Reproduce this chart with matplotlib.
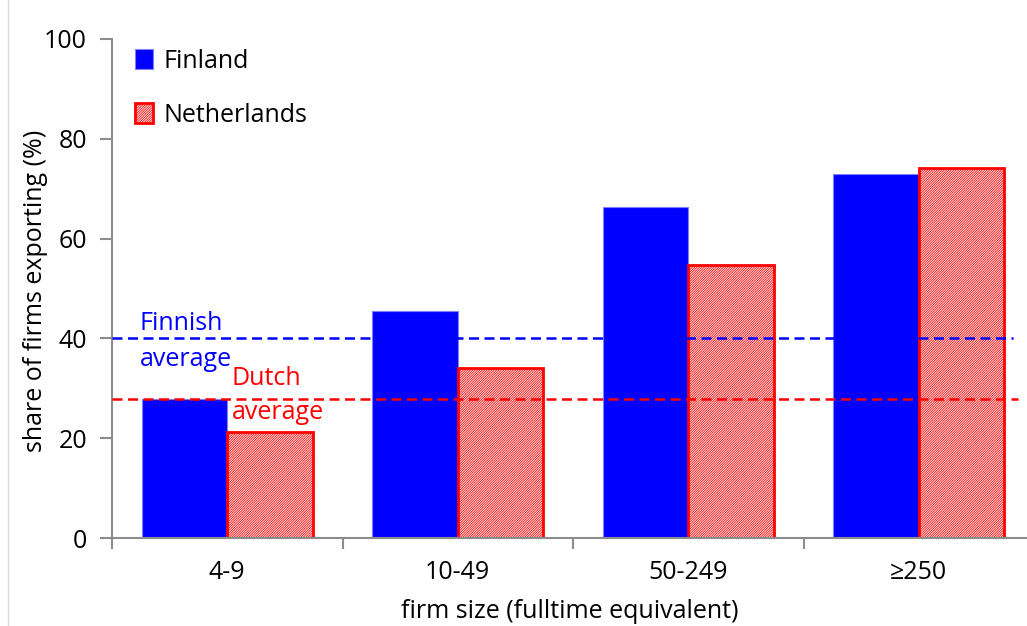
import numpy as np
import matplotlib.pyplot as plt
from matplotlib.lines import Line2D
from matplotlib.ticker import FixedLocator, NullFormatter

size_classes = ["4-9", "10-49", "50-249", "\u2265250"]
finland = [27.9, 45.5, 66.3, 72.9]
netherlands = [21.2, 34.1, 54.7, 74.1]
finnish_average = 40.0
dutch_average = 27.8

plt.rcParams['font.family'] = ['Open Sans', 'DejaVu Sans']
plt.rcParams['hatch.linewidth'] = 0.6

grey = "#8c8c8c"
fs = 18

fig = plt.figure(figsize=(10.27, 6.26), dpi=100)
ax = fig.add_axes([112 / 1027, 1 - 538 / 626, (1027 - 112) / 1027, (538 - 39) / 626])

# faint frame line on the left edge of the original picture
fig.add_artist(Line2D([8 / 1027, 8 / 1027], [0, 1], color="#d9d9d9", linewidth=1))

x = np.arange(len(size_classes))
width = 0.37

ax.bar(x - width / 2, finland, width, color="#0000ff", edgecolor="#8080ff", linewidth=0.8,
       label="Finland", zorder=2)
ax.bar(x + width / 2, netherlands, width, color="white", edgecolor="#ff0000", linewidth=2,
       hatch="//////////////", label="Netherlands", zorder=2)

ax.axhline(finnish_average, xmin=0, xmax=0.985, color="#0000ff", linestyle=(0, (4, 2.2)),
           linewidth=1.8, zorder=3)
ax.axhline(dutch_average, xmin=0, xmax=0.99, color="#ff0000", linestyle=(0, (4, 2.2)),
           linewidth=1.8, zorder=3)

ax.text(-0.38, 41.6, "Finnish", color="#0000ff", fontsize=fs, va="baseline")
ax.text(-0.38, 34.5, "average", color="#0000ff", fontsize=fs, va="baseline")
ax.text(0.02, 30.7, "Dutch", color="#ff0000", fontsize=fs, va="baseline")
ax.text(0.02, 23.8, "average", color="#ff0000", fontsize=fs, va="baseline")

ax.set_xlim(-0.5, -0.5 + (1027 - 112) / 230.5)
ax.set_ylim(0, 100)
ax.set_yticks([0, 20, 40, 60, 80, 100])

ax.xaxis.set_major_locator(FixedLocator([-0.5, 0.5, 1.5, 2.5]))
ax.xaxis.set_major_formatter(NullFormatter())
ax.xaxis.set_minor_locator(FixedLocator(x))
ax.set_xticklabels(size_classes, minor=True)
ax.tick_params(axis="x", which="major", direction="out", length=8, width=1.5, color=grey)
ax.tick_params(axis="x", which="minor", length=0, pad=16, labelsize=fs)
ax.tick_params(axis="y", direction="out", length=9, width=1.5, color=grey, labelsize=fs, pad=9)

for side in ["top", "right"]:
    ax.spines[side].set_visible(False)
for side in ["left", "bottom"]:
    ax.spines[side].set_color(grey)
    ax.spines[side].set_linewidth(1.5)

ax.set_xlabel("firm size (fulltime equivalent)", fontsize=fs, labelpad=10)
ax.set_ylabel("share of firms exporting (%)", fontsize=fs)
ax.yaxis.set_label_coords(-0.07, 0.495)

ax.legend(loc="upper left", bbox_to_anchor=(0.0, 1.025), frameon=False, fontsize=fs,
          handlelength=0.75, handleheight=0.85, handletextpad=0.4, labelspacing=1.15)

fig.savefig("out.png", dpi=100)
